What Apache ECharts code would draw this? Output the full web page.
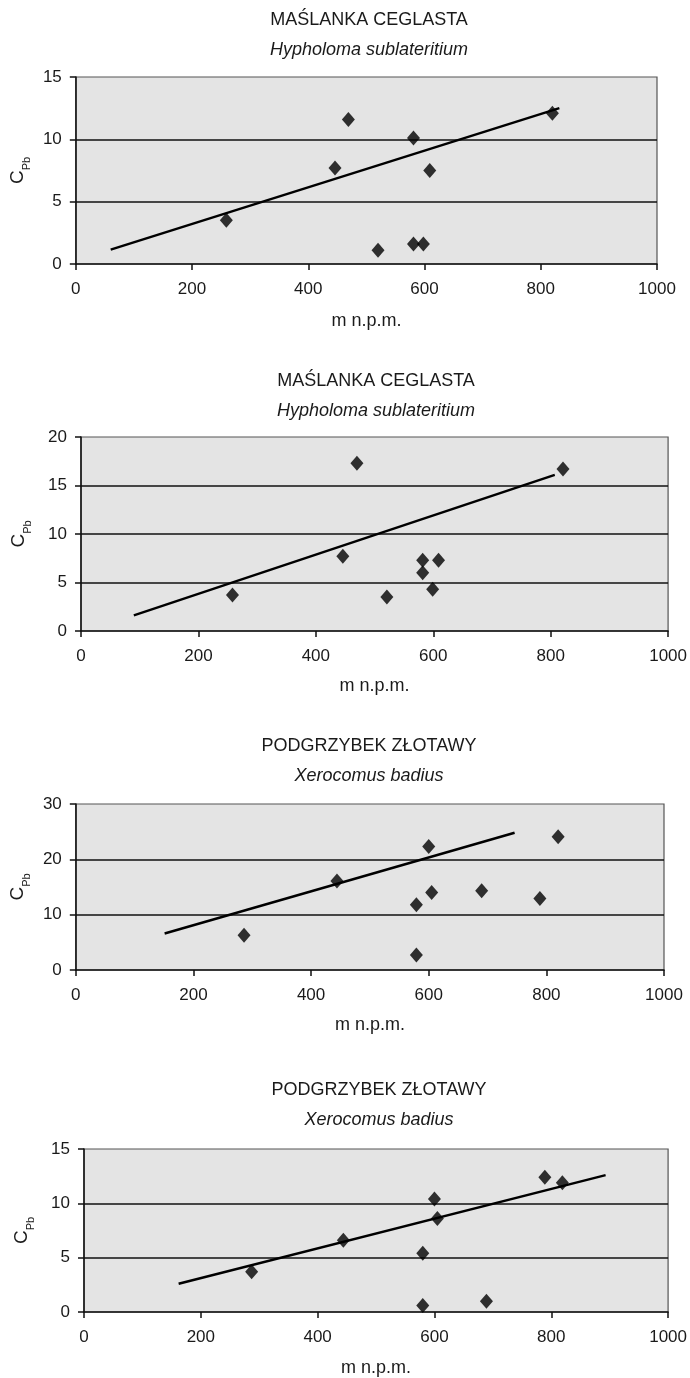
<!DOCTYPE html>
<html><head><meta charset="utf-8">
<script src="https://cdn.jsdelivr.net/npm/echarts@6/dist/echarts.min.js"></script>
<style>html,body{margin:0;padding:0;background:#fff}#c{width:690px;height:1378px}</style>
</head><body><div id="c"></div>
<script>
// Panel titles
const titles = ["MAŚLANKA CEGLASTA", "MAŚLANKA CEGLASTA", "PODGRZYBEK ZŁOTAWY", "PODGRZYBEK ZŁOTAWY"];
const subtitles = ["Hypholoma sublateritium", "Hypholoma sublateritium", "Xerocomus badius", "Xerocomus badius"];
const xName = "m n.p.m.";
// Axis ranges per panel
const xMax = 1000, xStep = 200;
const yMax = [15, 20, 30, 15];
const yStep = [5, 5, 10, 5];
// Panel 1
const alt1 = [259, 446, 469, 520, 581, 581, 598, 609, 820];
const pb1  = [3.5, 7.7, 11.6, 1.1, 10.1, 1.6, 1.6, 7.5, 12.1];
const trendX1 = [60, 832];   const trendY1 = [1.15, 12.5];
// Panel 2
const alt2 = [258, 446, 470, 521, 582, 582, 599, 609, 821];
const pb2  = [3.7, 7.7, 17.3, 3.5, 7.3, 6.0, 4.3, 7.3, 16.7];
const trendX2 = [90, 807];   const trendY2 = [1.6, 16.1];
// Panel 3
const alt3 = [286, 444, 579, 579, 600, 605, 690, 789, 820];
const pb3  = [6.3, 16.1, 11.8, 2.7, 22.3, 14.0, 14.3, 12.9, 24.1];
const trendX3 = [151, 746];  const trendY3 = [6.6, 24.8];
// Panel 4
const alt4 = [287, 444, 580, 580, 600, 605, 689, 789, 819];
const pb4  = [3.7, 6.6, 5.4, 0.6, 10.4, 8.6, 1.0, 12.4, 11.9];
const trendX4 = [162, 893];  const trendY4 = [2.6, 12.6];

const alts = [alt1, alt2, alt3, alt4];
const pbs = [pb1, pb2, pb3, pb4];
const tX = [trendX1, trendX2, trendX3, trendX4];
const tY = [trendY1, trendY2, trendY3, trendY4];

// layout (pixels)
const grids = [
  {left: 72, width: 585, top: 77, height: 187},
  {left: 81, width: 591, top: 437, height: 194},
  {left: 75, width: 589, top: 804, height: 166},
  {left: 84, width: 588, top: 1149, height: 163}
];
const titleCenterX = [369, 376, 369, 379];
const titleCenterY = [20, 381, 746, 1090];
const yNameGap = [44, 53, 47, 53];
const xNameGap = [48, 46, 46, 47];

const FONT = "Liberation Sans";
const INK = '#1a1a1a';
const opt = {animation: false, backgroundColor: '#fff', title: [], grid: [], xAxis: [], yAxis: [], series: []};
for (let i = 0; i < 4; i++) {
  const g = grids[i];
  opt.grid.push(Object.assign({show: true, backgroundColor: '#e4e4e4', borderColor: '#555', borderWidth: 1.2}, g));
  opt.title.push({
    text: titles[i], subtext: subtitles[i],
    left: titleCenterX[i], top: titleCenterY[i] - 10, textAlign: 'center', itemGap: 10, padding: 0,
    textStyle: {fontFamily: FONT, fontSize: 18, lineHeight: 20, fontWeight: 'normal', color: INK},
    subtextStyle: {fontFamily: FONT, fontSize: 18, lineHeight: 20, fontStyle: 'italic', color: INK}
  });
  opt.xAxis.push({
    type: 'value', gridIndex: i, min: 0, max: xMax, interval: xStep,
    name: xName, nameLocation: 'middle', nameGap: xNameGap[i],
    nameTextStyle: {fontFamily: FONT, fontSize: 18, color: INK},
    axisLine: {show: true, lineStyle: {color: '#111', width: 1.5}},
    axisTick: {show: true, length: 6, lineStyle: {color: '#111', width: 1.5}},
    axisLabel: {fontFamily: FONT, fontSize: 17, color: INK, margin: 17, formatter: v => String(v)},
    splitLine: {show: false}
  });
  opt.yAxis.push({
    type: 'value', gridIndex: i, min: 0, max: yMax[i], interval: yStep[i],
    name: '{c|C}{s|Pb}', nameLocation: 'middle', nameGap: yNameGap[i], nameRotate: 90,
    nameTextStyle: {rich: {
      c: {fontFamily: FONT, fontSize: 19, color: INK, lineHeight: 22, verticalAlign: 'bottom'},
      s: {fontFamily: FONT, fontSize: 11, color: INK, lineHeight: 22, verticalAlign: 'bottom', padding: [0, 0, -5, 0]}
    }},
    axisLine: {show: true, lineStyle: {color: '#111', width: 1.5}},
    axisTick: {show: true, length: 6, lineStyle: {color: '#111', width: 1.5}},
    axisLabel: {fontFamily: FONT, fontSize: 17, color: INK, margin: 14},
    splitLine: {show: true, showMaxLine: false, showMinLine: false, lineStyle: {color: '#111', width: 1.6}}
  });
  opt.series.push({
    type: 'line', xAxisIndex: i, yAxisIndex: i,
    data: tX[i].map((x, k) => [x, tY[i][k]]),
    symbol: 'none', lineStyle: {color: '#000', width: 2.4}, silent: true, z: 3
  });
  opt.series.push({
    type: 'scatter', xAxisIndex: i, yAxisIndex: i,
    data: alts[i].map((x, k) => [x, pbs[i][k]]),
    symbol: 'diamond', symbolSize: [13, 15], itemStyle: {color: '#000'}, z: 4
  });
}
const chart = echarts.init(document.getElementById('c'), null, {renderer: 'canvas'});
chart.setOption(opt);
</script>
</body></html>
